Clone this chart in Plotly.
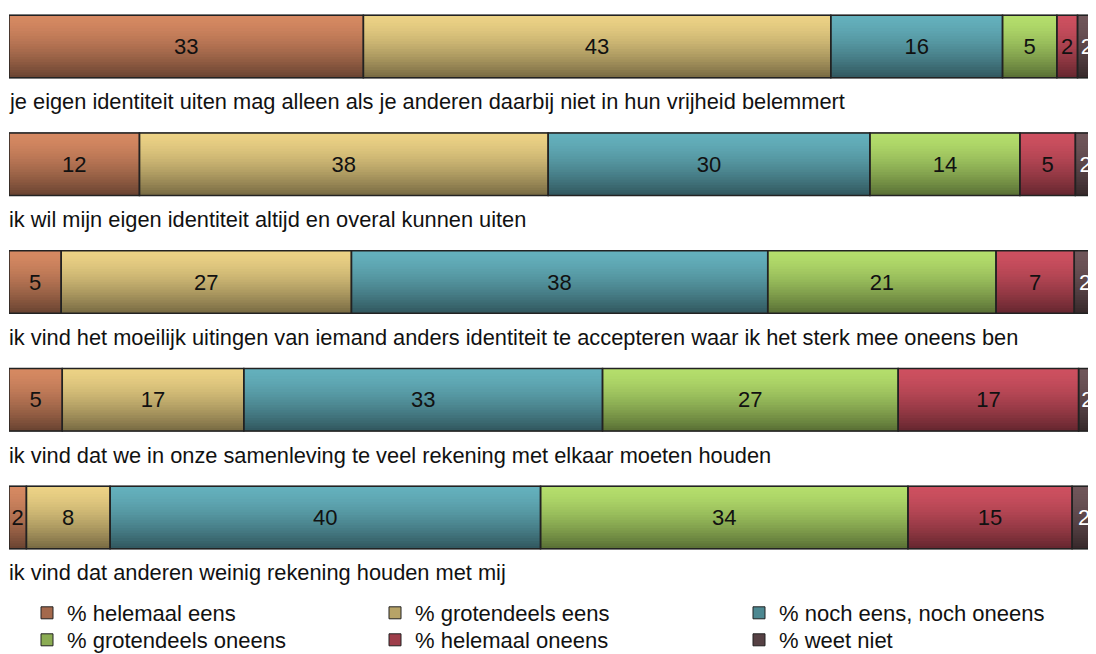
import plotly.graph_objects as go

statements = [
    "je eigen identiteit uiten mag alleen als je anderen daarbij niet in hun vrijheid belemmert",
    "ik wil mijn eigen identiteit altijd en overal kunnen uiten",
    "ik vind het moeilijk uitingen van iemand anders identiteit te accepteren waar ik het sterk mee oneens ben",
    "ik vind dat we in onze samenleving te veel rekening met elkaar moeten houden",
    "ik vind dat anderen weinig rekening houden met mij",
]
series_names = [
    "% helemaal eens",
    "% grotendeels eens",
    "% noch eens, noch oneens",
    "% grotendeels oneens",
    "% helemaal oneens",
    "% weet niet",
]
helemaal_eens = [32.6, 12.0, 4.8, 4.9, 1.6]
grotendeels_eens = [43.0, 37.6, 26.7, 16.7, 7.7]
noch_eens_noch_oneens = [15.8, 29.6, 38.3, 33.0, 39.6]
grotendeels_oneens = [5.0, 13.8, 21.0, 27.2, 33.8]
helemaal_oneens = [1.9, 5.1, 7.2, 16.6, 15.1]
weet_niet = [1.7, 1.9, 2.0, 1.6, 2.2]

series = [helemaal_eens, grotendeels_eens, noch_eens_noch_oneens,
          grotendeels_oneens, helemaal_oneens, weet_niet]

top_colors = [(214, 137, 98), (236, 210, 133), (100, 176, 188),
              (180, 222, 108), (206, 80, 96), (112, 86, 90)]
bottom_colors = [(104, 66, 48), (118, 105, 66), (48, 86, 93),
                 (88, 110, 52), (100, 38, 46), (54, 40, 42)]
text_colors = ["#111111"] * 5 + ["#ffffff"]

FONT = "Liberation Sans, Arial, Helvetica, sans-serif"
positions = list(range(len(statements)))
BAR_W = 0.53
N_SLICES = 24


def mix(c1, c2, t):
    return "rgb(%d,%d,%d)" % tuple(round(a + (b - a) * t) for a, b in zip(c1, c2))


# cumulative bases
bases = []
running = [0.0] * len(statements)
for vals in series:
    bases.append(list(running))
    running = [r + v for r, v in zip(running, vals)]

fig = go.Figure()
legend_ids = ["legend", "legend2", "legend3", "legend4", "legend5", "legend6"]

# base traces (carry the legend entries)
for j, vals in enumerate(series):
    fig.add_trace(go.Bar(
        orientation="h", x=vals, y=positions, base=bases[j],
        width=BAR_W, name=series_names[j],
        marker=dict(color=mix(top_colors[j], bottom_colors[j], 0.45),
                    line=dict(color="#222222", width=1)),
        legend=legend_ids[j], hoverinfo="skip",
    ))

# gradient slices
sw = BAR_W / N_SLICES
for j, vals in enumerate(series):
    for k in range(N_SLICES):
        t = (k + 0.5) / N_SLICES
        off = -BAR_W / 2 + k * sw
        w = sw * 1.3 if k < N_SLICES - 1 else sw
        fig.add_trace(go.Bar(
            orientation="h", x=vals, y=positions, base=bases[j],
            width=w, offset=off,
            marker=dict(color=mix(top_colors[j], bottom_colors[j], t ** 1.5),
                        line=dict(width=0)),
            showlegend=False, hoverinfo="skip",
        ))

# outlines + value labels
for j, vals in enumerate(series):
    fig.add_trace(go.Bar(
        orientation="h", x=vals, y=positions, base=bases[j],
        width=BAR_W,
        marker=dict(color="rgba(0,0,0,0)", line=dict(color="#222222", width=1.5)),
        texttemplate="%{x:.0f}", textposition="inside", insidetextanchor="middle",
        constraintext="none", textangle=0,
        textfont=dict(family=FONT, size=22, color=text_colors[j]),
        showlegend=False, hoverinfo="skip",
    ))

for i, s in enumerate(statements):
    fig.add_annotation(
        x=0, y=positions[i] + 0.47, xref="x", yref="y", text=s,
        showarrow=False, xanchor="left", yanchor="middle", xshift=-2,
        font=dict(family=FONT, size=21.8, color="#111111"),
    )

# the page body adds an 8px offset; figure coordinates below are page - 8
W, H = 1088, 646
ML, MR = 1, 0
PW = W - ML - MR
px_per_unit = 117.75
ymin = -38.5 / px_per_unit
ymax = ymin + H / px_per_unit

legend_pos = [(19, 605), (367, 605), (731, 605), (19, 632), (367, 632), (731, 632)]
layout_legends = {}
for lid, (lx, ly) in zip(legend_ids, legend_pos):
    layout_legends[lid] = dict(
        xref="paper", yref="paper", x=(lx - ML) / PW, y=1 - ly / H,
        xanchor="left", yanchor="middle", bgcolor="rgba(0,0,0,0)",
        font=dict(family=FONT, size=22, color="#111111"),
    )

fig.update_layout(
    width=W, height=H, barmode="overlay",
    margin=dict(l=ML, r=MR, t=0, b=0, autoexpand=False),
    paper_bgcolor="white", plot_bgcolor="white",
    xaxis=dict(range=[0, 100], visible=False, fixedrange=True),
    yaxis=dict(range=[ymax, ymin], visible=False, fixedrange=True),
    font=dict(family=FONT, size=22, color="#111111"),
    **layout_legends,
)

fig.write_html("out.html")
